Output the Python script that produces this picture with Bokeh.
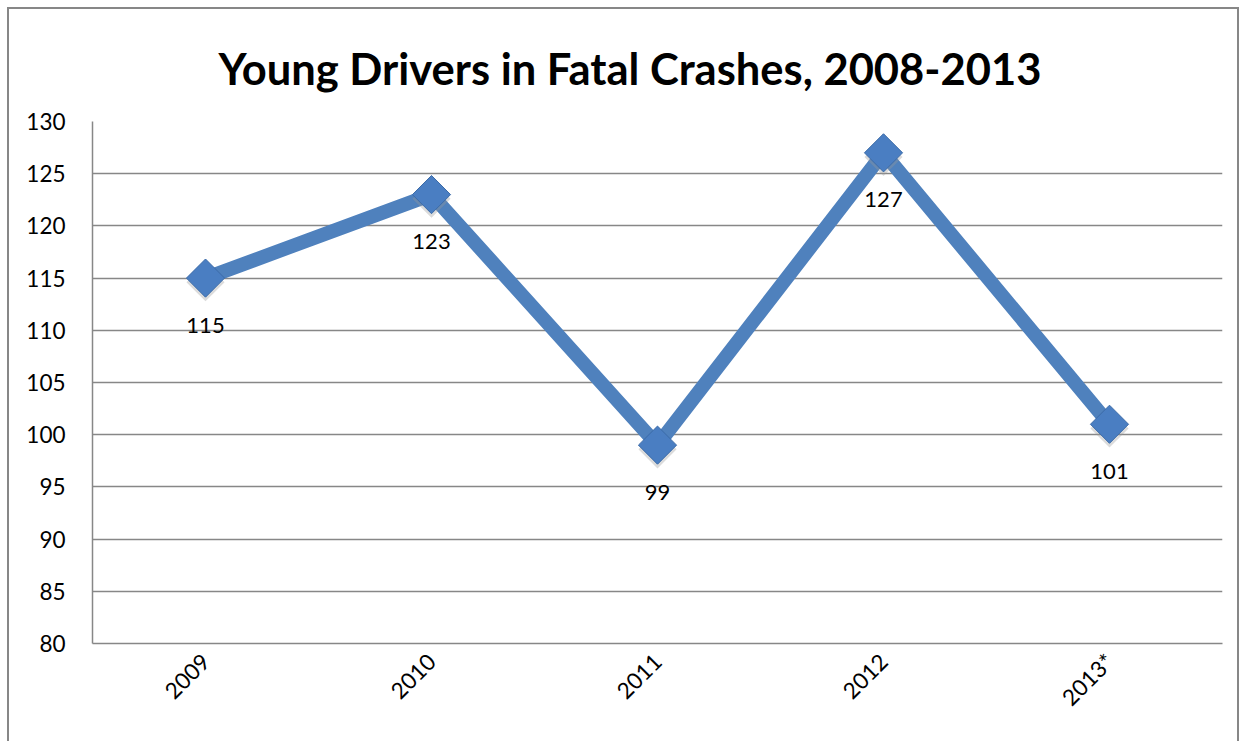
import math
from bokeh.plotting import figure
from bokeh.models import ColumnDataSource, Range1d, FactorRange, FixedTicker
from bokeh.embed import file_html
from bokeh.resources import INLINE
from bokeh.core.properties import value
from bokeh.transform import dodge

years = ["2009", "2010", "2011", "2012", "2013*"]
drivers = [115, 123, 99, 127, 101]
labels = [str(v) for v in drivers]
y_ticks = [80, 85, 90, 95, 100, 105, 110, 115, 120, 125, 130]

FONT = "Lato"
src = ColumnDataSource(dict(x=years, y=drivers, lab=labels))

p = figure(width=1232, height=734, output_backend="svg", toolbar_location=None,
           x_range=FactorRange(*years, range_padding=0), y_range=Range1d(80, 130),
           min_border_left=83, min_border_right=19, min_border_top=112, min_border_bottom=100,
           title="Young Drivers in Fatal Crashes, 2008-2013")
p.styles = {"border-left": "2px solid #878787", "border-top": "2px solid #878787",
            "border-right": "2px solid #878787", "box-sizing": "border-box",
            "margin-left": "7px", "margin-top": "7px"}
p.outline_line_color = None
p.title.align = "left"
p.title.offset = 126
p.title.text_font = FONT
p.title.text_font_size = "43.5px"
p.title.text_font_style = "bold"
p.title.text_color = "black"
p.title.standoff = 56

p.xgrid.grid_line_color = None
p.ygrid.grid_line_color = "#878787"
p.ygrid.grid_line_width = 1.5
p.yaxis.ticker = FixedTicker(ticks=y_ticks)
for ax in (p.xaxis[0], p.yaxis[0]):
    ax.axis_line_color = "#878787"
    ax.axis_line_width = 1.5
    ax.major_tick_line_color = None
    ax.minor_tick_line_color = None
    ax.major_tick_out = 0
    ax.major_tick_in = 0
    ax.major_label_text_font = FONT
    ax.major_label_text_font_size = "22.5px"
    ax.major_label_text_color = "black"
p.yaxis.major_label_standoff = 27
p.xaxis.major_label_orientation = math.pi / 4
p.xaxis.major_label_standoff = 14

p.line("x", "y", source=src, line_color="#4F81BD", line_width=14)
p.scatter("x", dodge("y", -0.4, range=p.y_range), source=src, marker="square",
          angle=math.pi / 4, size=27, fill_color="#999999", fill_alpha=0.35, line_color=None)
p.scatter("x", "y", source=src, marker="square", angle=math.pi / 4, size=27,
          fill_color="#4A7EC2", line_color="#3B6BA8", line_width=1)
p.text("x", "y", text="lab", source=src, y_offset=47, text_align="center",
       text_baseline="middle", text_font=value(FONT), text_font_size="22px",
       text_color="black")

open("out.html", "w").write(file_html(p, INLINE))
